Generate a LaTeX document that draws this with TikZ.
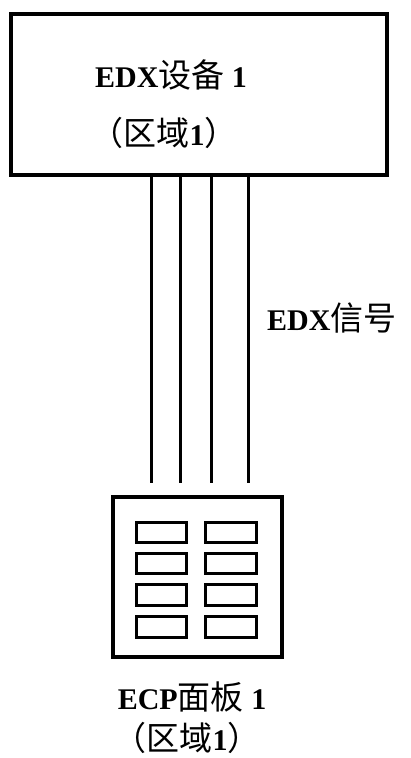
\documentclass[tikz,border=0pt]{standalone}
\usepackage{fontspec}
\setmainfont{Liberation Serif}
\newfontfamily\cjk{Noto Sans CJK SC}
\newcommand{\zh}[1]{{\cjk\mdseries\fontsize{33}{36}\selectfont #1}}
\begin{document}
\begin{tikzpicture}[x=1pt,y=-1pt,
  box/.style={draw=black,line width=3.3pt},
  key/.style={draw=black,line width=3pt},
  wire/.style={draw=black,line width=3pt},
  lbl/.style={inner sep=0pt,font=\fontsize{30}{34}\selectfont\bfseries}]
\useasboundingbox (0,0) rectangle (411,758);
% top device box
\draw[box] (11,14) rectangle (387,175);
\node[lbl] (t1) at (171,75) {EDX\zh{设备} 1};
\node[lbl] (t2) at (164,133) {\zh{（区域}1\zh{）}};
% bottom panel
\draw[box] (113,497) rectangle (282,657);
\foreach \r/\ya/\yb in {1/522/542,2/553/573,3/584/605,4/616/637}{
  \draw[key] (136,\ya) rectangle (186,\yb);
  \draw[key] (205,\ya) rectangle (256,\yb);
}
% wires
\foreach \i/\x in {1/151,2/180,3/211,4/248}{
  \coordinate (a\i) at (\x,175);
  \coordinate (b\i) at (\x,483);
  \draw[wire] (a\i) -- (b\i);
}
\node[lbl,anchor=west] (sig) at (267,318) {EDX\zh{信号}};
\node[lbl] (p1) at (192,697) {ECP\zh{面板} 1};
\node[lbl] (p2) at (187,738) {\zh{（区域}1\zh{）}};
\end{tikzpicture}
\end{document}
